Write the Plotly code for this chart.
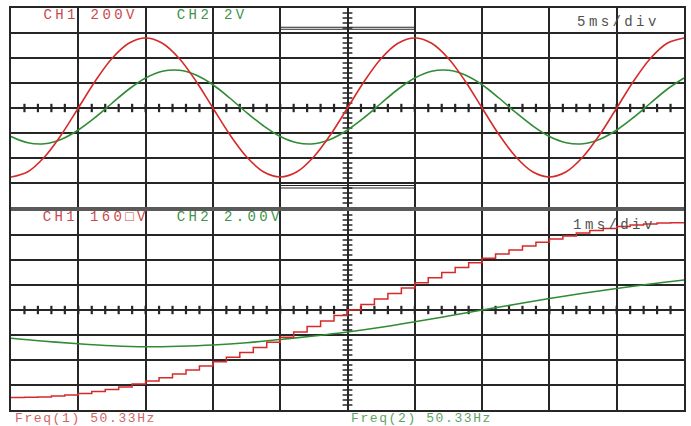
import plotly.graph_objects as go

W, H = 691, 426

# ---- data (units: divisions) ----
top_x = [i * 0.25 for i in range(41)]
top_ch1 = [-2.76, -2.55, -1.95, -1.06, 0.0, 1.07, 1.98, 2.59, 2.80, 2.59, 1.98, 1.07, 0.0,
           -1.06, -1.95, -2.55, -2.76, -2.55, -1.95, -1.06, 0.0, 1.07, 1.98, 2.59, 2.80,
           2.59, 1.98, 1.07, 0.0, -1.06, -1.95, -2.55, -2.76, -2.55, -1.95, -1.06, 0.0,
           1.07, 1.98, 2.59, 2.80]
top_ch2 = [-1.14, -1.39, -1.43, -1.25, -0.88, -0.38, 0.19, 0.75, 1.20, 1.47, 1.51, 1.32,
           0.93, 0.40, -0.18, -0.71, -1.14, -1.39, -1.43, -1.25, -0.88, -0.38, 0.19, 0.75,
           1.20, 1.47, 1.51, 1.32, 0.93, 0.40, -0.18, -0.71, -1.14, -1.39, -1.43, -1.25,
           -0.88, -0.38, 0.19, 0.75, 1.20]

bot_x1 = [i * 0.2 for i in range(51)]
bot_ch1 = [-3.50, -3.49, -3.48, -3.44, -3.40, -3.34, -3.26, -3.18, -3.08, -2.96, -2.84,
           -2.71, -2.56, -2.40, -2.24, -2.07, -1.89, -1.70, -1.50, -1.29, -1.09, -0.88,
           -0.66, -0.44, -0.22, 0.0, 0.22, 0.44, 0.66, 0.88, 1.09, 1.29, 1.50, 1.70, 1.89,
           2.07, 2.24, 2.40, 2.56, 2.71, 2.84, 2.96, 3.08, 3.18, 3.26, 3.34, 3.40, 3.44,
           3.48, 3.49, 3.50]
bot_x2 = [i * 0.5 for i in range(21)]
bot_ch2 = [-1.13, -1.25, -1.35, -1.43, -1.47, -1.45, -1.40, -1.31, -1.18, -1.04, -0.88,
           -0.69, -0.47, -0.24, 0.0, 0.23, 0.46, 0.67, 0.86, 1.04, 1.20]

labels_top = ["CH1 200V", "CH2 2V", "5ms/div"]
labels_bot = ["CH1 160\u25a1V", "CH2 2.00V", "1ms/div"]
freq_labels = ["Freq(1) 50.33Hz", "Freq(2) 50.33Hz"]

RED = "#d62a2a"
GREEN = "#2f8c34"
GRID = "#262626"

def px(x):
    return x / W

def py(y):
    return 1 - y / H

fig = go.Figure()

# center-axis tick marks (decoration)
hx = [k * 0.2 for k in range(1, 50)]
vy = [k * 0.2 for k in range(-19, 20)]
for xa, ya in (("x", "y"), ("x2", "y2")):
    fig.add_trace(go.Scatter(x=hx, y=[0] * len(hx), xaxis=xa, yaxis=ya, mode="markers",
                             marker=dict(symbol="line-ns", size=6,
                                         line=dict(color=GRID, width=2.2)),
                             hoverinfo="skip", showlegend=False))
    fig.add_trace(go.Scatter(x=[5] * len(vy), y=vy, xaxis=xa, yaxis=ya, mode="markers",
                             marker=dict(symbol="line-ew", size=7,
                                         line=dict(color=GRID, width=1.5)),
                             hoverinfo="skip", showlegend=False))

fig.add_trace(go.Scatter(x=top_x, y=top_ch2, xaxis="x", yaxis="y", mode="lines",
                         line=dict(color=GREEN, width=1.6, shape="spline"), showlegend=False))
fig.add_trace(go.Scatter(x=top_x, y=top_ch1, xaxis="x", yaxis="y", mode="lines",
                         line=dict(color=RED, width=1.6, shape="spline"), showlegend=False))
fig.add_trace(go.Scatter(x=bot_x2, y=bot_ch2, xaxis="x2", yaxis="y2", mode="lines",
                         line=dict(color=GREEN, width=1.6, shape="spline"), showlegend=False))
fig.add_trace(go.Scatter(x=bot_x1, y=bot_ch1, xaxis="x2", yaxis="y2", mode="lines",
                         line=dict(color=RED, width=1.5, shape="hv"), showlegend=False))

ax = dict(range=[0, 10], dtick=1, tick0=0, showgrid=True, gridcolor=GRID, gridwidth=1.6,
          showticklabels=False, ticks="", zeroline=False, showline=True, mirror=True,
          linecolor=GRID, linewidth=2, fixedrange=True)
ay = dict(range=[-4, 4], dtick=1, tick0=0, showgrid=True, gridcolor=GRID, gridwidth=1.6,
          showticklabels=False, ticks="", zeroline=False, showline=True, mirror=True,
          linecolor=GRID, linewidth=2, fixedrange=True)

xdom = [px(11), px(684)]
fig.update_layout(
    width=W, height=H, margin=dict(l=0, r=0, t=0, b=0),
    paper_bgcolor="white", plot_bgcolor="white",
    xaxis=dict(ax, domain=xdom, anchor="y"),
    yaxis=dict(ay, domain=[py(208), py(8)], anchor="x"),
    xaxis2=dict(ax, domain=xdom, anchor="y2"),
    yaxis2=dict(ay, domain=[py(410), py(210)], anchor="x2"),
)

shapes = []
for yv in (3.15, 3.23, -3.1, -3.2):
    shapes.append(dict(type="line", xref="x", yref="y", x0=4, x1=6, y0=yv, y1=yv,
                       line=dict(color=GRID, width=1)))
shapes.append(dict(type="line", xref="x2 domain", yref="y2 domain", x0=0, x1=1, y0=1.005, y1=1.005,
                   line=dict(color="#5a5a5a", width=4)))
fig.update_layout(shapes=shapes)

font = "Liberation Mono, DejaVu Sans Mono, monospace"
ann = []
def add(text, cx, cy, color, size):
    ann.append(dict(text=text, x=px(cx), y=py(cy), xref="paper", yref="paper",
                    xanchor="center", yanchor="middle", showarrow=False,
                    font=dict(family=font, size=size, color=color)))

add(labels_top[0], 91, 15, "#c84a4a", 14)
add(labels_top[1], 212, 15, "#3f934a", 14)
add(labels_top[2], 618, 22, "#505050", 14)
add(labels_bot[0], 96, 217, "#c84a4a", 14)
add(labels_bot[1], 230, 217, "#3f934a", 14)
add(labels_bot[2], 614, 225, "#505050", 14)
add(freq_labels[0], 85, 418, "#d06464", 13)
add(freq_labels[1], 421, 418, "#5aa564", 13)
fig.update_layout(annotations=ann)

post = """
var gd = document.getElementById('{plot_id}');
gd.querySelectorAll('.annotation-text').forEach(function(t){
  var fs = t.style.fontSize;
  if (fs === '14px') { t.style.letterSpacing = '3.4px'; }
  else if (fs === '13px') { t.style.letterSpacing = '1.6px'; }
});
"""
fig.write_html("out.html", post_script=post)
